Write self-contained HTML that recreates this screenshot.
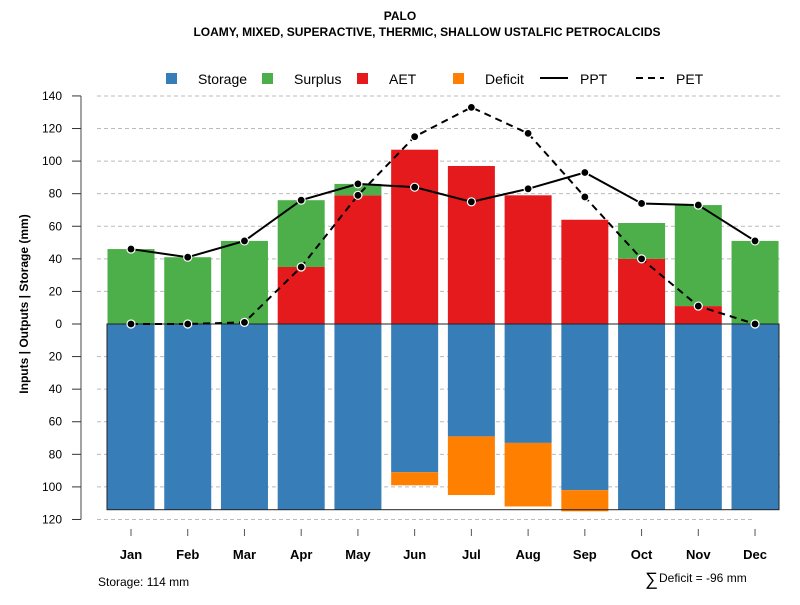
<!DOCTYPE html>
<html><head><meta charset="utf-8"><style>
body{margin:0;background:#fff;width:800px;height:600px;overflow:hidden;font-family:"Liberation Sans",sans-serif}
text{font-family:"Liberation Sans",sans-serif}
</style></head><body>
<svg id="c" width="800" height="600" xmlns="http://www.w3.org/2000/svg"></svg>
<script>
const months=["Jan","Feb","Mar","Apr","May","Jun","Jul","Aug","Sep","Oct","Nov","Dec"];
const ppt=[46,41,51,76,86,84,75,83,93,74,73,51];
const pet=[0,0,1,35,79,115,133,117,78,40,11,0];
const aet=[0,0,0,35,79,107,97,79,64,40,11,0];
const surplus=[46,41,51,41,7,0,0,0,0,22,62,51];
const storage=[114,114,114,114,114,91,69,73,102,114,114,114];
const deficit=[0,0,0,0,0,8,36,39,13,0,0,0];
const yTicks=[140,120,100,80,60,40,20,0,20,40,60,80,100,120];
const S=document.getElementById('c');const NS="http://www.w3.org/2000/svg";
function el(t,a,p){const e=document.createElementNS(NS,t);for(const k in a)e.setAttribute(k,a[k]);(p||S).appendChild(e);return e;}
const y=v=>324-v*1.629;
const x=i=>131+i*56.73;
const bw=47;
let t=el('text',{x:400,y:20,'text-anchor':'middle','font-size':12,'font-weight':'bold'});t.textContent="PALO";

t=el('text',{x:427,y:36,'text-anchor':'middle','font-size':12,'font-weight':'bold'});t.textContent="LOAMY, MIXED, SUPERACTIVE, THERMIC, SHALLOW USTALFIC PETROCALCIDS";

yTicks.forEach((v,k)=>{const val=k<8?v:-v;if(val===0)return;
 const g=el('line',{x1:97,x2:val===-120?755:780,y1:y(val),y2:y(val),stroke:'#bbb','stroke-dasharray':'4,3'});
 });
months.forEach((m,i)=>{
 const x0=x(i)-bw/2;
 let r=el('rect',{x:x0,y:y(0),width:bw,height:y(-storage[i])-y(0),fill:'#377eb8'});
 
 if(deficit[i]>0){r=el('rect',{x:x0,y:y(-storage[i]),width:bw,height:y(-(storage[i]+deficit[i]))-y(-storage[i]),fill:'#ff7f00'});
 }
 if(aet[i]>0){r=el('rect',{x:x0,y:y(aet[i]),width:bw,height:y(0)-y(aet[i]),fill:'#e41a1c'});
 }
 if(surplus[i]>0){r=el('rect',{x:x0,y:y(aet[i]+surplus[i]),width:bw,height:y(aet[i])-y(aet[i]+surplus[i]),fill:'#4daf4a'});
 }
 const xt=el('line',{x1:x(i),x2:x(i),y1:529,y2:536,stroke:'#555'});
 
 const lb=el('text',{x:x(i),y:559,'text-anchor':'middle','font-size':13,'font-weight':'bold'});lb.textContent=m;
 
});
let b=el('rect',{x:107,y:y(0),width:672,height:y(-114)-y(0),fill:'none',stroke:'#222','stroke-width':1});

let ax=el('line',{x1:81,x2:81,y1:y(140),y2:y(-120),stroke:'#666','stroke-width':1.2});

yTicks.forEach((v,k)=>{const val=k<8?v:-v;
 const tk=el('line',{x1:72,x2:81,y1:y(val),y2:y(val),stroke:'#333'});
 
 const tl=el('text',{x:62,y:y(val)+4,'text-anchor':'end','font-size':12});tl.textContent=v;
 });
t=el('text',{x:28,y:304,'text-anchor':'middle','font-size':12,'font-weight':'bold',transform:'rotate(-90 28 304)'});
t.textContent="Inputs | Outputs | Storage    (mm)";

function line(arr,dash,name){let d=arr.map((v,i)=>(i?'L':'M')+x(i)+' '+y(v)).join(' ');
 const p=el('path',{d:d,fill:'none',stroke:'#000','stroke-width':2,'stroke-dasharray':dash});
 
 arr.forEach((v,i)=>{const c=el('circle',{cx:x(i),cy:y(v),r:4,fill:'#000',stroke:'#fff','stroke-width':1.2});
 });}
line(pet,'7,5','pet');line(ppt,'none','ppt');
const lg=el('g',{});
[["Storage",'#377eb8',166],["Surplus",'#4daf4a',262],["AET",'#e41a1c',357],["Deficit",'#ff7f00',453]].forEach(([n,c,lx])=>{
 const r=el('rect',{x:lx,y:73,width:11,height:11,fill:c},lg);
 const tx=el('text',{x:lx+32,y:84,'font-size':14},lg);tx.textContent=n;});
let l1=el('line',{x1:540,x2:568,y1:78,y2:78,stroke:'#000','stroke-width':2},lg);
t=el('text',{x:580,y:84,'font-size':14},lg);t.textContent="PPT";
l1=el('line',{x1:636,x2:664,y1:78,y2:78,stroke:'#000','stroke-width':2,'stroke-dasharray':'7,5'},lg);
t=el('text',{x:676,y:84,'font-size':14},lg);t.textContent="PET";
t=el('text',{x:98,y:586,'font-size':12});t.textContent="Storage: 114 mm";
t=el('text',{x:645,y:585,'font-size':18});t.textContent="∑";
t=el('text',{x:659,y:582,'font-size':12});t.textContent="Deficit = -96 mm";
</script>
</body></html>
